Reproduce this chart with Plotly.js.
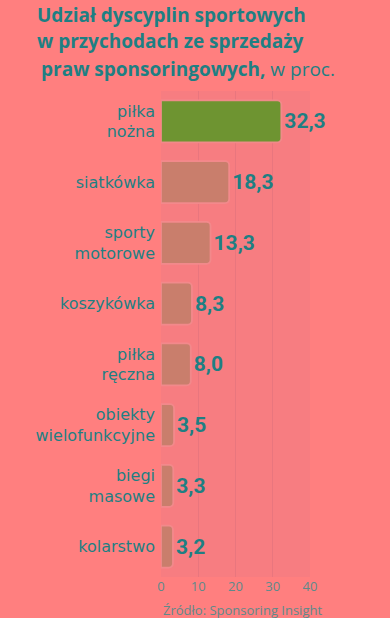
<!DOCTYPE html>
<html>
<head>
<meta charset="utf-8">
<script src="https://cdn.plot.ly/plotly-3.0.1.min.js"></script>
<style>
html,body{margin:0;padding:0;background:#FF7F7F;}
#chart{width:390px;height:618px;}
</style>
</head>
<body>
<div id="chart"></div>
<script>
const categories = ["piłka<br>nożna", "siatkówka", "sporty<br>motorowe", "koszykówka", "piłka<br>ręczna", "obiekty<br>wielofunkcyjne", "biegi<br>masowe", "kolarstwo"];
const shares = [32.3, 18.3, 13.3, 8.3, 8.0, 3.5, 3.3, 3.2];
const xTicks = [0, 10, 20, 30, 40];
const titleLines = ["<b>Udział dyscyplin sportowych</b>", "<b>w przychodach ze sprzedaży</b>", "<b>praw sponsoringowych,</b> w proc."];

const teal = "#1E7F83";
const barColors = shares.map((v, i) => i === 0 ? "#6E9431" : "#C97E6C");

const trace = {
  type: "bar",
  orientation: "h",
  x: shares,
  y: categories,
  width: 0.69,
  marker: {
    color: barColors,
    cornerradius: 4,
    line: {color: "rgba(242,138,140,0.95)", width: 1.8}
  },
  texttemplate: "%{x:.1f}",
  textposition: "outside",
  cliponaxis: false,
  textfont: {family: "Roboto, sans-serif", size: 21, color: teal, weight: "bold"},
  hoverinfo: "skip"
};

const titleShifts = [76, 50, 22];
const titleX = [35, 35, 39];
const titleAnns = titleLines.map((t, i) => ({
  text: t,
  xref: "paper", yref: "paper",
  x: 0, y: 1, xanchor: "left", yanchor: "middle",
  xshift: titleX[i] - 161, yshift: titleShifts[i],
  showarrow: false,
  font: {family: "'Open Sans', sans-serif", size: 19, color: teal}
}));

const layout = {
  width: 390,
  height: 618,
  paper_bgcolor: "#FF7F7F",
  plot_bgcolor: "#F77D81",
  separators: ", ",
  margin: {l: 161, r: 80, t: 91, b: 41, pad: 0},
  showlegend: false,
  xaxis: {
    range: [0, 40],
    tickvals: xTicks,
    ticktext: xTicks.map(String),
    showgrid: true,
    gridcolor: "rgba(190,100,120,0.25)",
    gridwidth: 1,
    zeroline: false,
    showline: false,
    ticks: "",
    tickfont: {family: "'Open Sans', sans-serif", size: 13, color: "#5E8A8B"},
    fixedrange: true
  },
  yaxis: {
    autorange: "reversed",
    showgrid: false,
    zeroline: false,
    showline: false,
    ticks: "",
    ticklabelstandoff: 5,
    tickfont: {family: "'DejaVu Sans', sans-serif", size: 16, color: teal},
    fixedrange: true
  },
  annotations: titleAnns.concat([{
    text: "Źródło: Sponsoring Insight",
    xref: "paper", yref: "paper",
    x: 0, y: 0, xanchor: "left", yanchor: "middle",
    yshift: -33,
    showarrow: false,
    font: {family: "'Open Sans', sans-serif", size: 13, color: "#5E8A8B"}
  }])
};

Plotly.newPlot("chart", [trace], layout, {displayModeBar: false, staticPlot: true});
</script>
</body>
</html>
